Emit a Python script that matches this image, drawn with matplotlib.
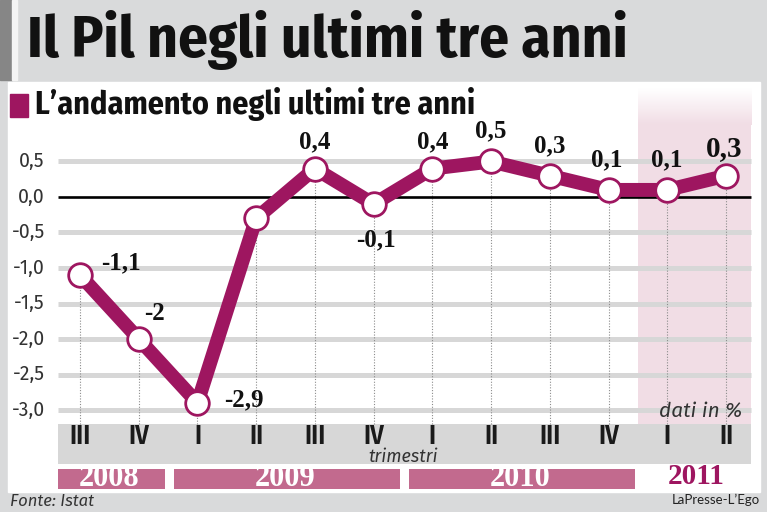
import matplotlib
matplotlib.use("Agg")
import matplotlib.pyplot as plt
from matplotlib.patches import Rectangle
from matplotlib.colors import LinearSegmentedColormap
import numpy as np

# data
quarters = ["III", "IV", "I", "II", "III", "IV", "I", "II", "III", "IV", "I", "II"]
years = ["2008", "2009", "2010", "2011"]
year_first = [0, 2, 6, 10]
year_last = [1, 5, 9, 11]
pil = [-1.1, -2.0, -2.9, -0.3, 0.4, -0.1, 0.4, 0.5, 0.3, 0.1, 0.1, 0.3]
show_label = [True, True, True, False, True, True, True, True, True, True, True, True]
# label offsets in pixels (dx, dy up)
label_off = [(41, 12), (16, 26), (46, 3), (0, 0), (0, 27), (2, -36),
             (0, 27), (0, 31), (0, 30), (-2, 30), (-1, 30), (-2, 27)]
yticks = [0.5, 0.0, -0.5, -1.0, -1.5, -2.0, -2.5, -3.0]

MAG = "#9e1660"
BAND = "#c26a8e"
PINK = "#f1dde5"
GRAY = "#d9dadb"
TICKBAND = "#d7d7d7"

W, H = 767, 512
fig = plt.figure(figsize=(W / 100, H / 100), dpi=100)
fig.patch.set_facecolor(GRAY)


def frect(x0, y0, x1, y1, **kw):
    # pixel box (top-left origin) -> figure rectangle
    fig.patches.append(Rectangle((x0 / W, 1 - y1 / H), (x1 - x0) / W, (y1 - y0) / H,
                                 transform=fig.transFigure, **kw))


frect(0, 0, 12, 80, color="#868686", zorder=-2)
frect(12, 0, 17, 80, color="#f4f4f4", zorder=-2)
frect(8, 82, 760, 492, color="white", zorder=-2)

cond = ["Fira Sans Condensed", "Fira Sans Extra Condensed", "Archivo Narrow", "DejaVu Sans"]
serif = ["Liberation Serif", "DejaVu Serif"]
sans = ["Fira Sans", "Liberation Sans", "DejaVu Sans"]

fig.text(27 / W, 1 - 40 / H, "Il Pil negli ultimi tre anni", fontsize=42.5, fontweight="bold",
         family=cond, va="center", ha="left", color="#111111")
frect(10, 94, 28, 117, color=MAG, zorder=-1)
fig.text(35 / W, 1 - 104 / H, "L\u2019andamento negli ultimi tre anni", fontsize=23,
         fontweight="bold", family=cond, va="center", ha="left", color="#111111")
fig.text(10 / W, 1 - 501 / H, "Fonte: Istat", fontsize=12, style="italic",
         family=sans, va="center", ha="left", color="#333333")
fig.text(760 / W, 1 - 500 / H, "LaPresse-L\u2019Ego", fontsize=9.5, family=["Lato", "DejaVu Sans"],
         va="center", ha="right", color="#222222")

# axes over whole figure, data units on both axes
ax = fig.add_axes([0, 0, 1, 1])
ax.set_axis_off()
ax.patch.set_alpha(0)
x0px, dxpx = 80.0, 58.73
y0px, dypx = 197.0, 71.0
xlim = ((0 - x0px) / dxpx, (W - x0px) / dxpx)
ylim = ((y0px - H) / dypx, y0px / dypx)

x = np.arange(len(pil))
left, right = -0.38, 11.43
ytop, ybot = (y0px - 88) / dypx, (y0px - 424) / dypx
yband = (y0px - 464) / dypx

# 2011 shading, fading in at the top
xs0 = year_first[3] - 0.5
yfade = (y0px - 125) / dypx
ax.add_patch(Rectangle((xs0, ybot), right - xs0, yfade - ybot, color=PINK, zorder=1, lw=0))
fade = LinearSegmentedColormap.from_list("fade", ["white", PINK])
ax.imshow(np.linspace(0, 1, 50).reshape(-1, 1), cmap=fade, aspect="auto", origin="upper",
          extent=(xs0, right, yfade, ytop), zorder=1, interpolation="bilinear")

for v in yticks:
    if v == 0:
        ax.plot([left, right], [v, v], color="black", lw=1.9, zorder=3, solid_capstyle="butt")
    else:
        ax.plot([left, right], [v, v], color=TICKBAND, lw=3.6, zorder=2, solid_capstyle="butt")
    ax.text(left - 0.22, v, f"{v:.1f}".replace(".", ","), ha="right", va="center",
            fontsize=14, color="#333333", family=sans)

for xi, v in zip(x, pil):
    ax.plot([xi, xi], [ybot, v], color="#8c8c8c", lw=0.8, ls=(0, (1, 1.5)), zorder=2)

ax.plot(x, pil, color=MAG, lw=10, zorder=4, solid_joinstyle="miter")
ax.plot(x, pil, ls="none", marker="o", ms=17, mfc="white", mec=MAG, mew=2, zorder=5)

for i, (xi, v) in enumerate(zip(x, pil)):
    if not show_label[i]:
        continue
    dx, dy = label_off[i]
    big = i == len(pil) - 1
    ax.annotate(f"{v:g}".replace(".", ","), (xi, v), xytext=(dx * 0.72, dy * 0.72),
                textcoords="offset points", ha="center", va="center",
                fontsize=21 if big else 18, fontweight="bold",
                family=serif, color="#111111", zorder=6)

ax.text(11.28, (y0px - 411) / dypx, "dati in %", ha="right", va="center", fontsize=15,
        style="italic", color="#333333", family=sans, zorder=6)

# quarter band
ax.add_patch(Rectangle((left, yband), right - left, ybot - yband, color=TICKBAND, zorder=1, lw=0))
for xi, q in zip(x, quarters):
    ax.text(xi, (y0px - 436) / dypx, q, ha="center", va="center", fontsize=19,
            fontweight="semibold", family=cond, color="#1a1a1a", zorder=6)
ax.text((x[0] + x[-1]) / 2, (y0px - 457) / dypx, "trimestri", ha="center", va="center",
        fontsize=13, style="italic", color="#333333", family=sans, zorder=6)

# year bands
ytxt = (y0px - 479) / dypx
yb0, yb1 = (y0px - 489) / dypx, (y0px - 469) / dypx
for yr, a, b in zip(years, year_first, year_last):
    xc = (a + b) / 2
    if yr == years[-1]:
        ax.text(xc, (y0px - 477) / dypx, yr, ha="center", va="center", fontsize=21,
                fontweight="bold", family=serif, color=MAG, zorder=6)
        continue
    xa = left if a == 0 else a - 0.4
    ax.add_patch(Rectangle((xa, yb0), b + 0.45 - xa, yb1 - yb0, color=BAND, zorder=1, lw=0))
    ax.text(xc, ytxt, yr, ha="center", va="center", fontsize=22, fontweight="bold",
            family=serif, color="white", zorder=6)

ax.set_xlim(*xlim)
ax.set_ylim(*ylim)
fig.savefig("out.png", dpi=100, facecolor=fig.get_facecolor())
